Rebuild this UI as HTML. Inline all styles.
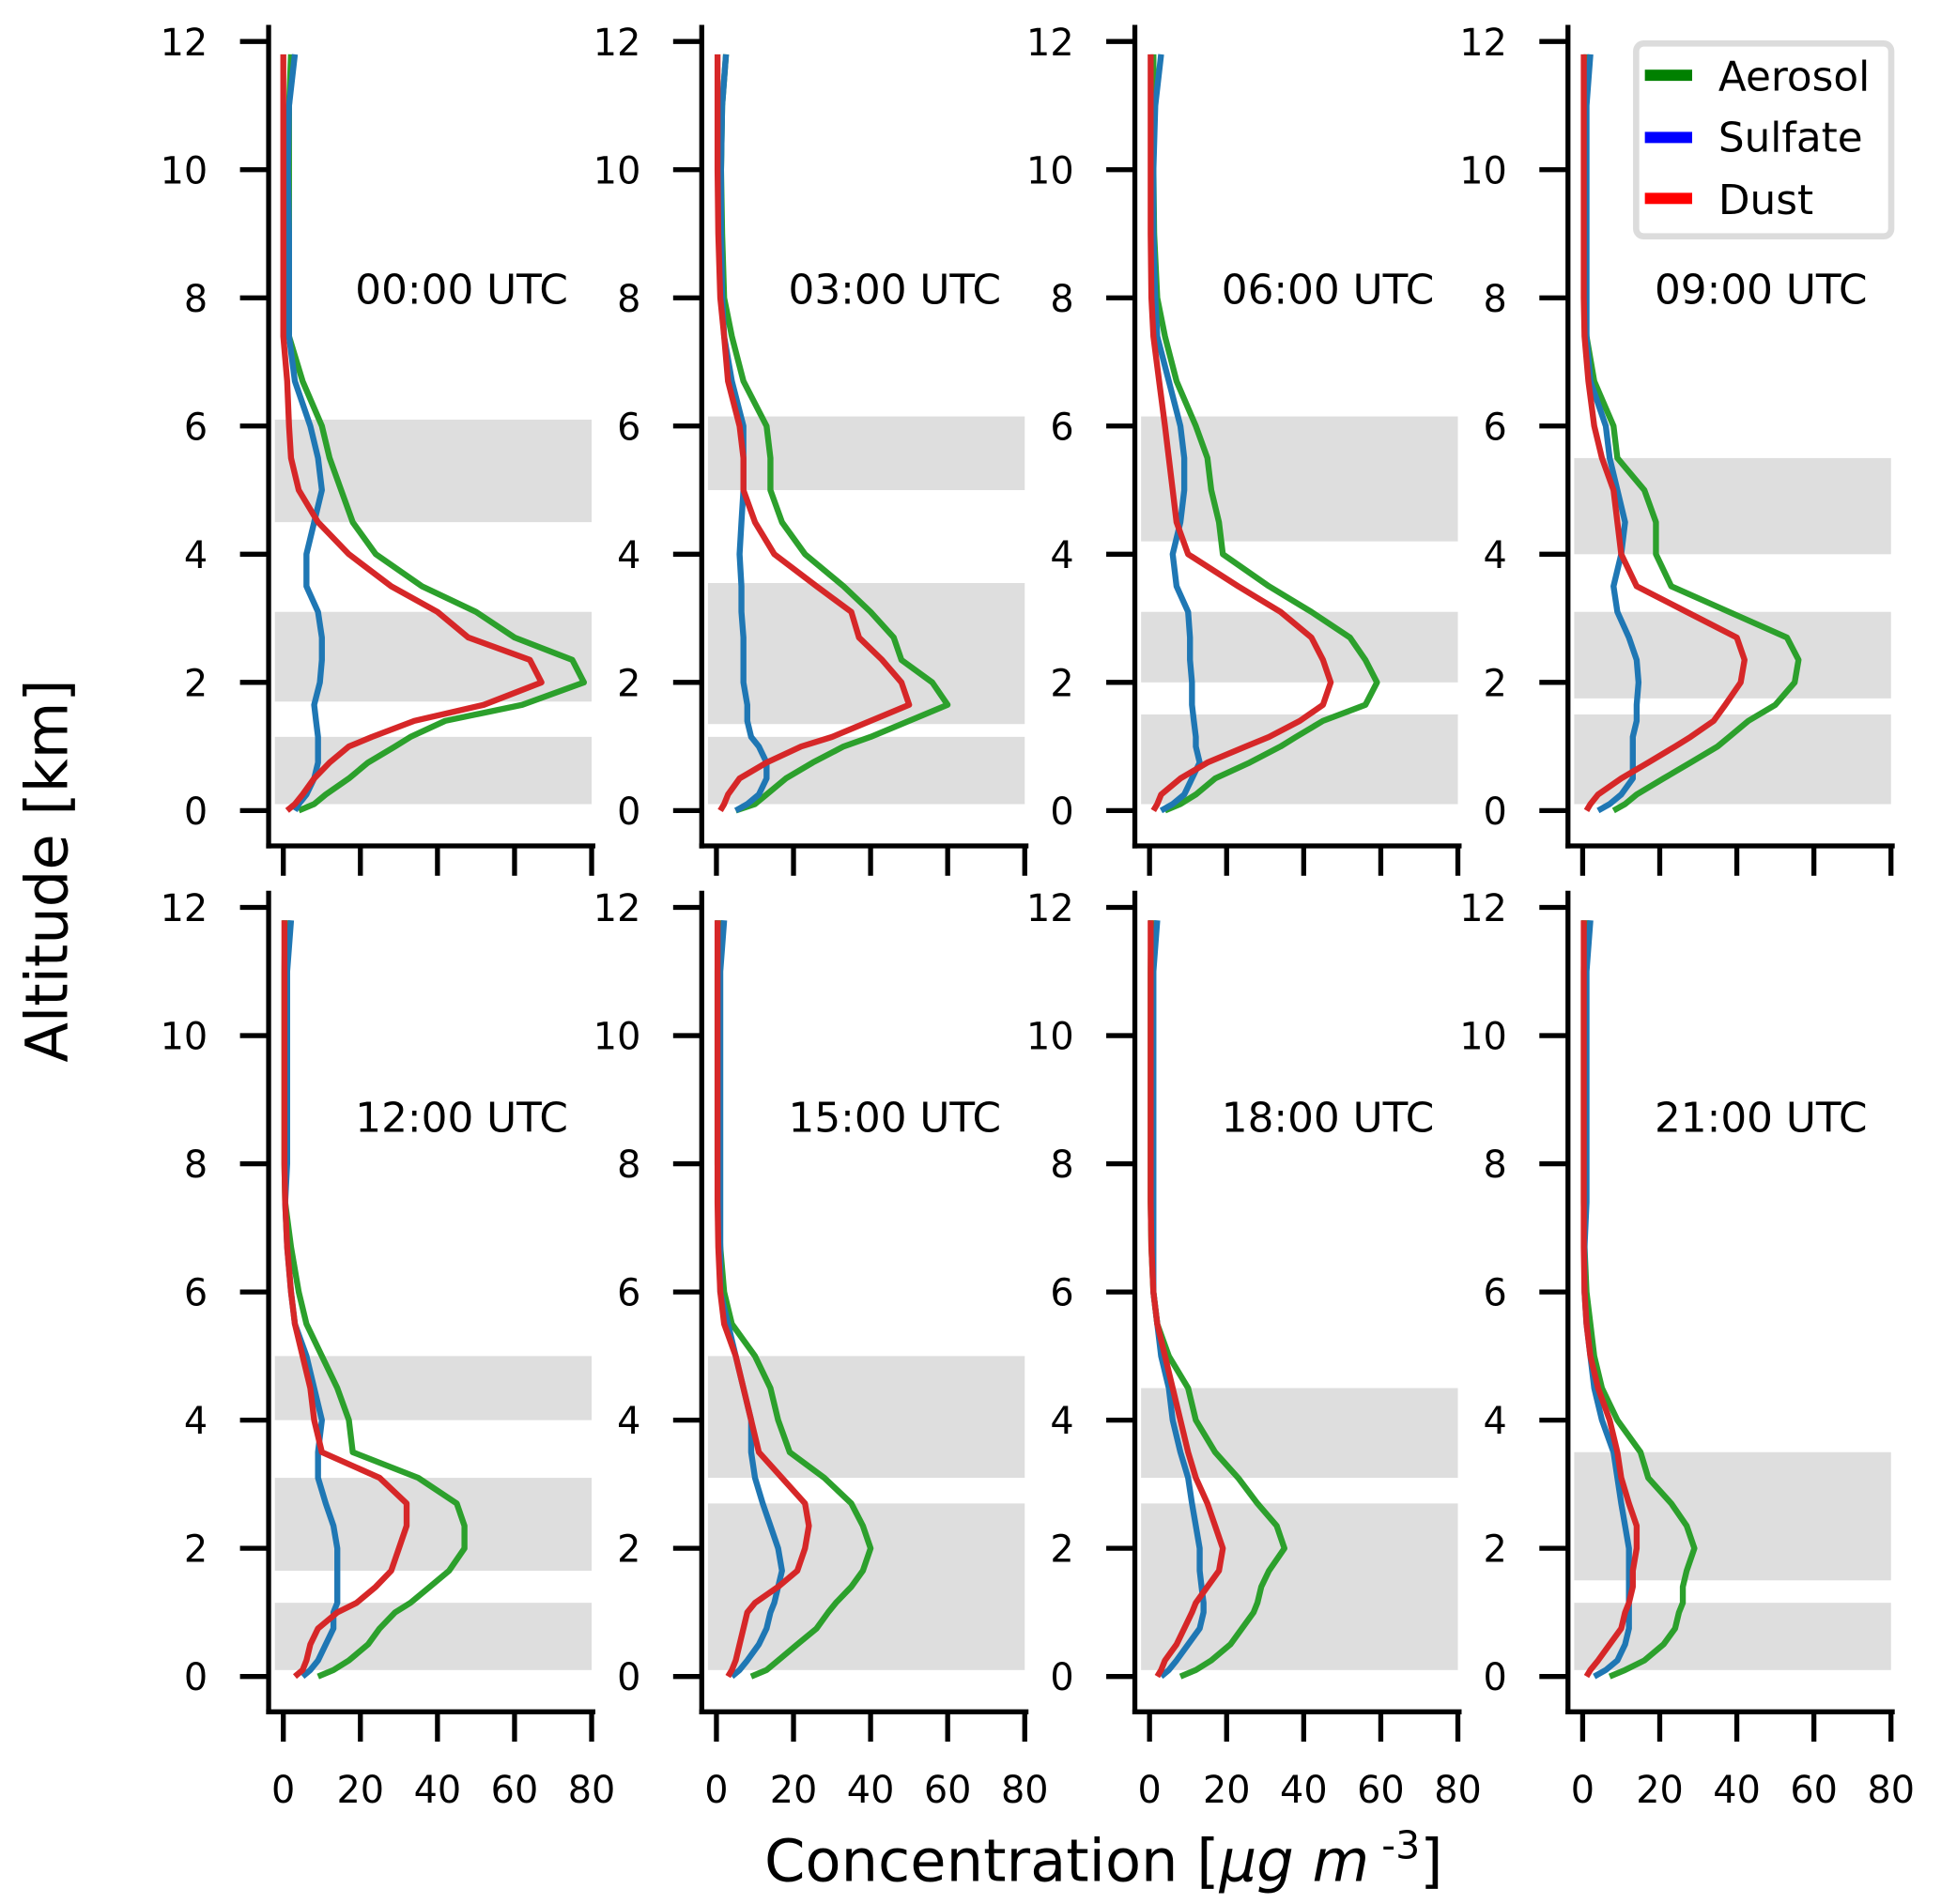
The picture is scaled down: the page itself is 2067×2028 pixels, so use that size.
<!DOCTYPE html>
<html><head><meta charset="utf-8"><style>
html,body{margin:0;padding:0;background:#fff}
svg{display:block;font-family:"DejaVu Sans","Liberation Sans",sans-serif}
</style></head><body>
<svg id="chart" width="2067" height="2028" viewBox="0 0 1560 1530.6" preserveAspectRatio="none" xmlns="http://www.w3.org/2000/svg"></svg>
<script>
const levels=[0,0.1,0.25,0.5,0.75,1,1.15,1.4,1.65,2,2.35,2.7,3.1,3.5,4,4.5,5,5.5,6,6.7,7.4,8,9,10,11,11.8];
const panelTitles=["00:00 UTC","03:00 UTC","06:00 UTC","09:00 UTC","12:00 UTC","15:00 UTC","18:00 UTC","21:00 UTC"];
const xTicks=[0,20,40,60,80];
const yTicks=[0,2,4,6,8,10,12];
const bands=[
 [[4.5,6.1],[1.7,3.1],[0.1,1.15]],
 [[5.0,6.15],[1.35,3.55],[0.1,1.15]],
 [[4.2,6.15],[2.0,3.1],[0.1,1.5]],
 [[4.0,5.5],[1.75,3.1],[0.1,1.5]],
 [[4.0,5.0],[1.65,3.1],[0.1,1.15]],
 [[3.1,5.0],[0.1,2.7]],
 [[3.1,4.5],[0.1,2.7]],
 [[1.5,3.5],[0.1,1.15]]
];
const aerosol=[
 [4,8,11,17,22,29,33,42,62,78,75,60,50,36,24,18,15,12,10,5,1.5,1.5,1.5,1.5,1.5,2],
 [5,10,13,18,25,33,40,50,60,56,48,46,40,33,23,17,14,14,13,7,4,2,1.5,1.2,1.5,2.5],
 [4,8,12,17,26,34,38,45,56,59,56,52,42,31,19,18,16,15,12,7,4,2,1.2,1,1,1],
 [8,11,14,21,28,35,38,43,50,55,56,53,38,23,19,19,16,9,8,3,1,0.5,0.5,0.5,0.5,1],
 [9,13,17,22,25,29,33,38,43,47,47,45,35,18,17,14,10,6,4,2,0.5,0.3,0.3,0.3,0.3,0.5],
 [9,13,16,21,26,29,31,35,38,40,38,35,28,19,16,14,10,4,2,1,0.5,0.3,0.3,0.3,0.3,0.5],
 [8,12,16,21,24,27,28,29,31,35,33,28,23,17,12,10,5,2,1,0.5,0.3,0.3,0.3,0.3,0.3,0.5],
 [7,11,16,21,24,25,26,26,27,29,27,23,17,15,9,5,3,2,1,0.5,0.3,0.3,0.3,0.3,0.3,0.5]
];
const sulfate=[
 [3,4,6,8,9,9,9,8.5,8,9.5,10,10,9,6,6,8,10,9,7,3,1.5,1.5,1.5,1.2,1.5,3],
 [5,8,11,13,13,11,9,8,8,7,7,7,6.5,6.5,6,6.5,7,7,7,4,2,1.5,1.2,1.2,1.5,2.5],
 [3,6,9,11,13,12,12,11.5,11,11,10.5,10.5,10,7,6,8,9,9,8,5,2,1.5,1,1,1.5,3],
 [4,7,10,13,13,13,13,14,14,14.5,14,12,9,8,10,11,9,7,6,2,1,1,1,1,1,2],
 [5,7,9,11,13,13,14,14,14,14,13,11,9,9,10,8,6,3,2,1,0.5,1,1,1,1,2],
 [4,6,8,11,13,14,15,16,17,16,14,12,10,9,9,7,5,3,1,1,1,1,1,1,1,2],
 [3,5,7,10,13,14,14,13.5,13,13,12,11,10,8,6,5,3,2,1,1,1,1,1,1,1,2],
 [3,6,9,11,12,12,12,12,12,12,11,10,9,8,5,3,2,1,0.5,0.5,1,1,1,1,1,2]
];
const dust=[
 [1,3,5,8,12,17,23,34,52,67,64,48,40,28,17,9,4,2,1.5,1,0,0,0,0,0,0],
 [1,2,3,6,13,22,30,40,50,48,43,37,35,26,15,10,7,7,6,3,2,1,0.5,0.3,0.3,0.3],
 [1,2,3,8,15,25,31,39,45,47,45,42,34,23,10,7,6,5,4,2.5,1,0.5,0.3,0.3,0.3,0.3],
 [1,2,4,10,17,24,28,34,37,41,42,40,27,14,10,9,8,5,3,1.5,0.5,0.3,0.3,0.3,0.3,0.3],
 [3,5,6,7,9,14,19,24,28,30,32,32,25,10,8,7,5,3,2,1,0.5,0.3,0.3,0.3,0.3,0.3],
 [3,4,5,6,7,8,10,16,21,23,24,23,17,11,9,7,5,2,1,0.5,0.3,0.3,0.3,0.3,0.3,0.3],
 [2,3,4,7,9,11,12,15,18,19,17,15,12,10,8,6,4,2,1,0.5,0.3,0.3,0.3,0.3,0.3,0.3],
 [1,2,4,7,10,11,12,13,13,14,14,12,10,9,7,4,2,1,0.5,0.3,0.3,0.3,0.3,0.3,0.3,0.3]
];
const svg=document.getElementById('chart');
const NS='http://www.w3.org/2000/svg';
function mk(tag,attrs,parent){const e=document.createElementNS(NS,tag);for(const k in attrs)e.setAttribute(k,attrs[k]);(parent||svg).appendChild(e);return e;}
const PX0=227.7, PXS=3.0975, PY0=651.6, PYS=51.52, ROW=696.1, COL=348.1;
function xs(p,v){return PX0+(p%4)*COL+v*PXS;}
function ys(p,v){return PY0+Math.floor(p/4)*ROW-v*PYS;}
for(let p=0;p<8;p++){
  const g=mk('g',{});
  
  
  const sx=215.9+(p%4)*COL, rowOff=Math.floor(p/4)*ROW;
  bands[p].forEach((b,i)=>{
    const r=mk('rect',{x:sx+5,y:ys(p,b[1]),width:xs(p,80)-sx-5,height:ys(p,b[0])-ys(p,b[1]),fill:'#dedede'},g);
    
    
  });
  const series=[[aerosol,'#2ca02c','aerosol-line'],[sulfate,'#1f77b4','sulfate-line'],[dust,'#d62728','dust-line']];
  series.forEach(s=>{
    const pts=s[0][p].map((v,i)=>xs(p,v).toFixed(1)+','+ys(p,levels[i]).toFixed(1)).join(' ');
    const l=mk('polyline',{points:pts,fill:'none',stroke:s[1],'stroke-width':4.8,'stroke-linejoin':'round'},g);
    
    
  });
  const by=680+rowOff;
  mk('line',{x1:sx,y1:20+rowOff,x2:sx,y2:by+2,stroke:'#000','stroke-width':4},g);
  mk('line',{x1:sx-2,y1:by,x2:xs(p,80)+3,y2:by,stroke:'#000','stroke-width':4},g);
  yTicks.forEach(t=>{
    mk('line',{x1:sx-23,y1:ys(p,t),x2:sx,y2:ys(p,t),stroke:'#000','stroke-width':4},g);
    const tx=mk('text',{x:sx-49,y:ys(p,t)+11,'text-anchor':'end','font-size':30,fill:'#000'},g);
    tx.textContent=t;
    
    
  });
  xTicks.forEach(t=>{
    mk('line',{x1:xs(p,t),y1:by,x2:xs(p,t),y2:by+24,stroke:'#000','stroke-width':4},g);
    if(p>=4){
      const tx=mk('text',{x:xs(p,t),y:1449,'text-anchor':'middle','font-size':30,fill:'#000'},g);
      tx.textContent=t;
      
      
    }
  });
  const tt=mk('text',{x:371+(p%4)*COL,y:244+Math.floor(p/4)*666,'text-anchor':'middle','font-size':33,fill:'#000'},g);
  tt.textContent=panelTitles[p];
  
  
}
</script>
<svg style="position:absolute;left:0;top:0" width="2067" height="2028" viewBox="0 0 1560 1530.6" preserveAspectRatio="none" xmlns="http://www.w3.org/2000/svg">
  <g>
    <rect x="1315" y="35" width="205" height="155" rx="6" fill="#fff" stroke="#dcdcdc" stroke-width="5"/>
    <rect x="1322" y="56" width="38" height="9" fill="#008000"/>
    <text x="1381" y="73" font-size="33">Aerosol</text>
    <rect x="1322" y="106" width="38" height="9" fill="#0000ff"/>
    <text x="1381" y="122" font-size="33">Sulfate</text>
    <rect x="1322" y="155" width="38" height="9" fill="#ff0000"/>
    <text x="1381" y="172" font-size="33">Dust</text>
  </g>
  <text transform="translate(54,700) rotate(-90)" text-anchor="middle" font-size="47">Altitude [km]</text>
  <text x="887" y="1512" text-anchor="middle" font-size="47">Concentration [<tspan font-style="italic">μg</tspan>  <tspan font-style="italic">m</tspan><tspan font-size="31" dy="-18"> -3</tspan><tspan dy="18">]</tspan></text>
</svg>
</body></html>
